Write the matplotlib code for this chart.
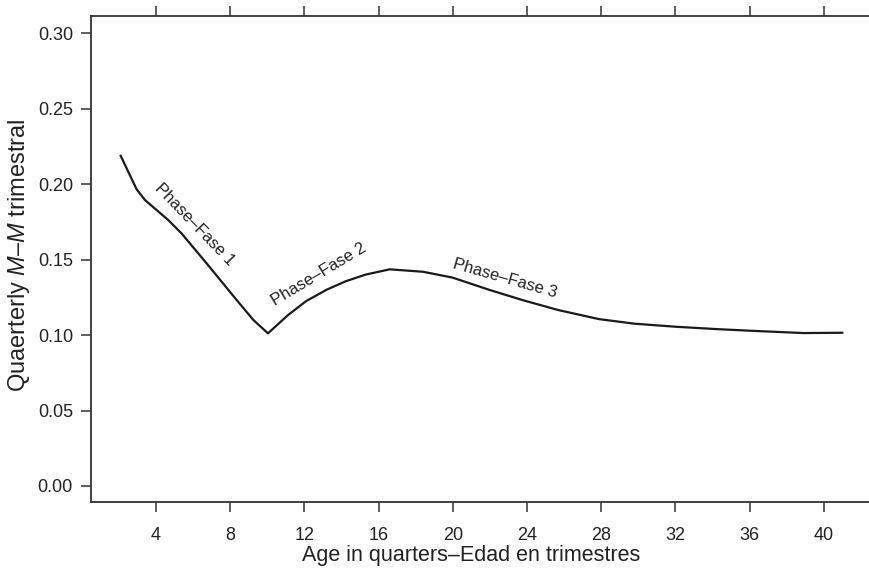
import matplotlib
matplotlib.use("Agg")
import matplotlib.pyplot as plt

plt.rcParams['font.family'] = ['Liberation Sans', 'DejaVu Sans']
plt.rcParams['mathtext.fontset'] = 'custom'
plt.rcParams['mathtext.it'] = 'Liberation Sans:italic'
plt.rcParams['mathtext.rm'] = 'Liberation Sans'

age = [2.1, 2.96, 3.41, 4.66, 5.38, 6.73, 8.35, 9.25, 10.04,
       11.1, 12.1, 13.2, 14.25, 15.3, 16.6, 18.4, 20.0, 22.0,
       23.8, 25.7, 27.9, 29.8, 32.0, 34.1, 36.1, 38.9, 41.0]
mort = [0.2187, 0.1965, 0.1894, 0.1762, 0.1673, 0.1475, 0.1232, 0.110, 0.1011,
        0.113, 0.1225, 0.130, 0.1357, 0.140, 0.1435, 0.1419, 0.138, 0.1298,
        0.123, 0.1165, 0.1105, 0.1075, 0.1055, 0.104, 0.1028, 0.1013, 0.1015]
xticks = [4, 8, 12, 16, 20, 24, 28, 32, 36, 40]
yticks = [0.00, 0.05, 0.10, 0.15, 0.20, 0.25, 0.30]
phase_labels = ["Phase\u2013Fase 1", "Phase\u2013Fase 2", "Phase\u2013Fase 3"]
phase_x = [6.1, 12.8, 22.8]
phase_y = [0.1735, 0.1404, 0.1377]
phase_rot = [-46, 31, -16]

fig = plt.figure(figsize=(8.69, 5.70), dpi=100)
ax = fig.add_axes([91/869, 1-502/570, 1-91/869, (502-16)/570])
ax.plot(age, mort, color='#1a1a1a', lw=1.6)
ax.set_xlim(0.5, 42.44)
ax.set_ylim(-0.0106, 0.3113)
ax.set_xticks(xticks)
ax.set_yticks(yticks)
ax.set_yticklabels([f"{v:.2f}" for v in yticks])
ax.spines['right'].set_visible(False)
for s in ['left', 'bottom', 'top']:
    ax.spines[s].set_linewidth(1.3)
    ax.spines[s].set_color('#333333')
ax.tick_params(axis='x', which='both', top=True, labeltop=False, direction='out',
               length=7, width=1.1, pad=11, labelsize=13, colors='#333333', labelcolor='#222222')
ax.tick_params(axis='y', direction='out', length=7, width=1.1, pad=6, labelsize=13,
               colors='#333333', labelcolor='#222222')
ax.set_xlabel("Age in quarters\u2013Edad en trimestres", fontsize=15.5, color='#222222')
ax.xaxis.set_label_coords((471.5-91)/778, -(556-502)/486)
ax.xaxis.label.set_va('center')
ax.set_ylabel("Quaerterly $\\it{M}$\u2013$\\it{M}$ trimestral",
              fontsize=17, color='#222222')
ax.yaxis.set_label_coords(-(91-19.5)/778, (502-255)/486)
ax.yaxis.label.set_va('center')
for lab, x, y, r in zip(phase_labels, phase_x, phase_y, phase_rot):
    ax.text(x, y, lab, rotation=r, rotation_mode='anchor', ha='center', va='center',
            fontsize=12, color='#222222')
fig.savefig("out.png", dpi=100)
